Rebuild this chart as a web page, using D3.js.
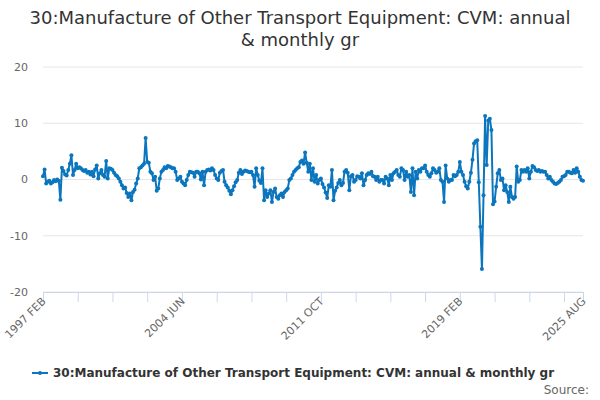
<!DOCTYPE html>
<html>
<head>
<meta charset="utf-8">
<script src="https://cdn.jsdelivr.net/npm/d3@7"></script>
<style>
  body { margin: 0; background: #fff; }
  text { font-family: "DejaVu Sans", Arial, sans-serif; }
</style>
</head>
<body>
<div id="chart"></div>
<script>
var titleLines = ["30:Manufacture of Other Transport Equipment: CVM: annual", "& monthly gr"];
var seriesName = "30:Manufacture of Other Transport Equipment: CVM: annual & monthly gr";
var monthNames = ["JAN","FEB","MAR","APR","MAY","JUN","JUL","AUG","SEP","OCT","NOV","DEC"];
var startYear = 1997, startMonth = 1; // FEB
var yTicks = [-20, -10, 0, 10, 20];
var tickLabels = ["1997 FEB", "2004 JUN", "2011 OCT", "2019 FEB", "2025 AUG"];

// monthly values, 1997 FEB .. 2025 AUG
var values = [
  0.6, 1.8, -0.7, -0.4, -0.2, -0.7, -0.5, -0.1, -0.3, 0.0,
  -0.2, -3.6, 2.1, 1.5, 0.9, 0.7, 1.7, 2.8, 4.3, 0.8,
  1.7, 2.8, 2.0, 2.2, 2.0, 1.7, 1.5, 1.7, 1.2, 1.4,
  0.9, 1.4, 0.6, 1.8, 2.5, 0.2, 1.1, 1.7, 0.8, 0.5,
  3.3, 0.2, 2.0, 1.9, 1.7, 1.2, 0.8, 0.6, 0.2, -0.4,
  -1.0, -1.6, -1.4, -2.4, -3.1, -2.5, -3.7, -2.2, -1.8, -0.7,
  0.2, 2.0, 2.2, 2.5, 2.8, 7.4, 3.1, 3.0, 1.4, 1.1,
  -0.1, 0.5, -2.0, -1.6, 0.2, 1.4, 1.7, 2.2, 2.0, 2.4,
  2.3, 2.2, 2.0, 2.0, 1.4, -0.1, 0.2, 0.5, -0.4, -0.7,
  -1.0, -0.1, 0.8, 1.4, 1.3, 1.2, 0.5, 1.4, 1.4, 1.1,
  0.0, 1.4, -1.0, 1.4, 1.7, 1.8, 1.6, 2.0, 1.7, 0.8,
  0.2, -0.1, 1.2, 1.5, 1.7, -0.4, -1.0, -1.4, -2.0, -2.6,
  -1.9, -1.2, -0.5, -0.1, 1.2, 1.7, 1.0, 1.4, 1.6, 1.5,
  1.4, 1.3, 1.4, 0.8, -1.3, 2.0, 0.8, -0.2, -0.6, 2.0,
  -3.7, -1.9, -3.1, -2.5, -1.9, -4.0, -2.2, -1.6, -3.1, -3.4,
  -2.8, -2.5, -3.1, -2.2, -1.9, -1.6, -0.1, 0.2, 0.8, 1.4,
  1.7, 2.0, 2.2, 3.1, 3.4, 2.8, 4.8, 3.0, 1.4, 2.8,
  -0.1, 2.0, -0.4, 0.8, -0.7, -0.1, 0.2, -0.8, -1.4, -2.3,
  -3.3, -1.0, -1.3, 1.7, -3.7, -2.0, -1.4, -0.6, -0.1, -1.0,
  -0.6, 1.4, 1.7, 1.2, -1.9, 0.6, 0.8, -0.4, -0.1, 0.6,
  0.5, 0.2, 1.1, -1.0, -0.1, 0.8, 1.1, 1.0, 1.4, 0.6,
  0.5, -0.1, 0.5, -0.4, -0.1, -0.1, -0.7, 0.5, 0.2, -1.0,
  0.8, -0.1, 1.1, 1.4, 1.7, 0.8, 0.5, 2.0, 1.7, -0.1,
  1.4, 0.5, 0.8, -2.2, 2.0, -2.8, 1.4, 0.2, 1.7, 1.4,
  2.0, 2.0, 2.5, 1.4, 0.8, 0.5, 1.1, 2.0, 1.7, 1.2,
  1.4, 2.0, -0.1, -0.4, -4.0, 2.5, 0.2, -0.4, -0.1, -0.1,
  0.8, 0.6, 0.8, 1.4, 3.1, 1.4, 0.8, -0.4, -1.2, -1.6,
  -0.4, 1.2, 3.5, 6.4, 6.8, 7.0, -0.5, -8.4, -15.9, -2.8,
  11.3, 2.6, 10.5, 10.8, 8.8, -4.4, -3.9, -1.3, 1.1, 1.7,
  -0.1, 0.2, -1.9, -1.0, -2.2, -4.0, -1.3, -3.1, -3.4, -3.1,
  2.3, -0.4, -0.1, 1.7, 1.4, 1.7, 1.4, 2.0, 0.2, 1.4,
  2.4, 2.2, 1.7, 1.5, 1.7, 1.4, 1.5, 1.4, 1.4, 0.8,
  0.2, 0.5, -0.1, -0.4, -0.7, -0.8, -0.6, -0.4, -0.1, 0.5,
  0.6, 0.8, 1.4, 1.4, 1.2, 1.1, 1.7, 1.2, 2.0, 1.4,
  0.5, -0.1, -0.2
];

var categories = values.map(function(v, i) {
  var m = startMonth + i;
  return (startYear + Math.floor(m / 12)) + " " + monthNames[m % 12];
});

var width = 600, height = 400;
var margin = {top: 67, right: 17, bottom: 108, left: 43};
var pw = width - margin.left - margin.right,
    ph = height - margin.top - margin.bottom;
var lineColor = "#0b76bd";

var svg = d3.select("#chart").append("svg")
  .attr("width", width)
  .attr("height", height);

// title
svg.append("text")
  .attr("text-anchor", "middle")
  .attr("fill", "#333")
  .style("font-size", "18px")
  .selectAll("tspan")
  .data(titleLines)
  .enter().append("tspan")
  .attr("x", width / 2)
  .attr("y", function(d, i) { return 24 + i * 22; })
  .text(function(d) { return d; });

var g = svg.append("g")
  .attr("transform", "translate(" + margin.left + "," + margin.top + ")");

var x = d3.scalePoint().domain(categories).range([0, pw]);
var y = d3.scaleLinear().domain([-20, 20]).range([ph, 0]);

// grid lines
g.selectAll(".grid")
  .data(yTicks)
  .enter().append("line")
  .attr("x1", 0).attr("x2", pw)
  .attr("y1", function(d) { return y(d); })
  .attr("y2", function(d) { return y(d); })
  .attr("stroke", "#e6e6e6");

// y labels
g.selectAll(".ylab")
  .data(yTicks)
  .enter().append("text")
  .attr("x", -15)
  .attr("y", function(d) { return y(d); })
  .attr("dy", "0.35em")
  .attr("text-anchor", "end")
  .attr("fill", "#666")
  .style("font-size", "11px")
  .text(function(d) { return d; });

// x axis: tick every 22 months plus the last one
var tickCats = categories.filter(function(d, i) { return i % 22 === 0 || i === categories.length - 1; });
var xAxis = d3.axisBottom(x)
  .tickValues(tickCats)
  .tickSize(10)
  .tickFormat(function(d) { return tickLabels.indexOf(d) >= 0 ? d : ""; });

var xg = g.append("g")
  .attr("transform", "translate(0," + ph + ")")
  .call(xAxis);
xg.select(".domain").attr("stroke", "#ccd6eb");
xg.selectAll(".tick line").attr("stroke", "#ccd6eb");
xg.selectAll(".tick text")
  .attr("fill", "#666")
  .style("font-size", "11px")
  .style("font-family", "DejaVu Sans, Arial, sans-serif")
  .attr("text-anchor", "end")
  .attr("dy", null)
  .attr("x", 0)
  .attr("y", 0)
  .attr("transform", "translate(3,10) rotate(-45)");

// the series
var line = d3.line()
  .x(function(d, i) { return x(categories[i]); })
  .y(function(d) { return y(d); });

g.append("path")
  .datum(values)
  .attr("fill", "none")
  .attr("stroke", lineColor)
  .attr("stroke-width", 2)
  .attr("stroke-linejoin", "round")
  .attr("d", line);

g.selectAll(".dot")
  .data(values)
  .enter().append("circle")
  .attr("cx", function(d, i) { return x(categories[i]); })
  .attr("cy", function(d) { return y(d); })
  .attr("r", 2)
  .attr("fill", lineColor);

// legend
var legend = svg.append("g").attr("transform", "translate(32,373)");
legend.append("line")
  .attr("x1", 0).attr("x2", 16)
  .attr("y1", 0).attr("y2", 0)
  .attr("stroke", lineColor)
  .attr("stroke-width", 2);
legend.append("circle")
  .attr("cx", 8).attr("cy", 0).attr("r", 2)
  .attr("fill", lineColor);
legend.append("text")
  .attr("x", 21)
  .attr("y", 0)
  .attr("dy", "0.35em")
  .attr("fill", "#333")
  .style("font-size", "12px")
  .style("font-weight", "bold")
  .text(seriesName);

svg.append("text")
  .attr("x", 589)
  .attr("y", 394)
  .attr("text-anchor", "end")
  .attr("fill", "#666")
  .style("font-size", "12px")
  .text("Source:");
</script>
</body>
</html>
